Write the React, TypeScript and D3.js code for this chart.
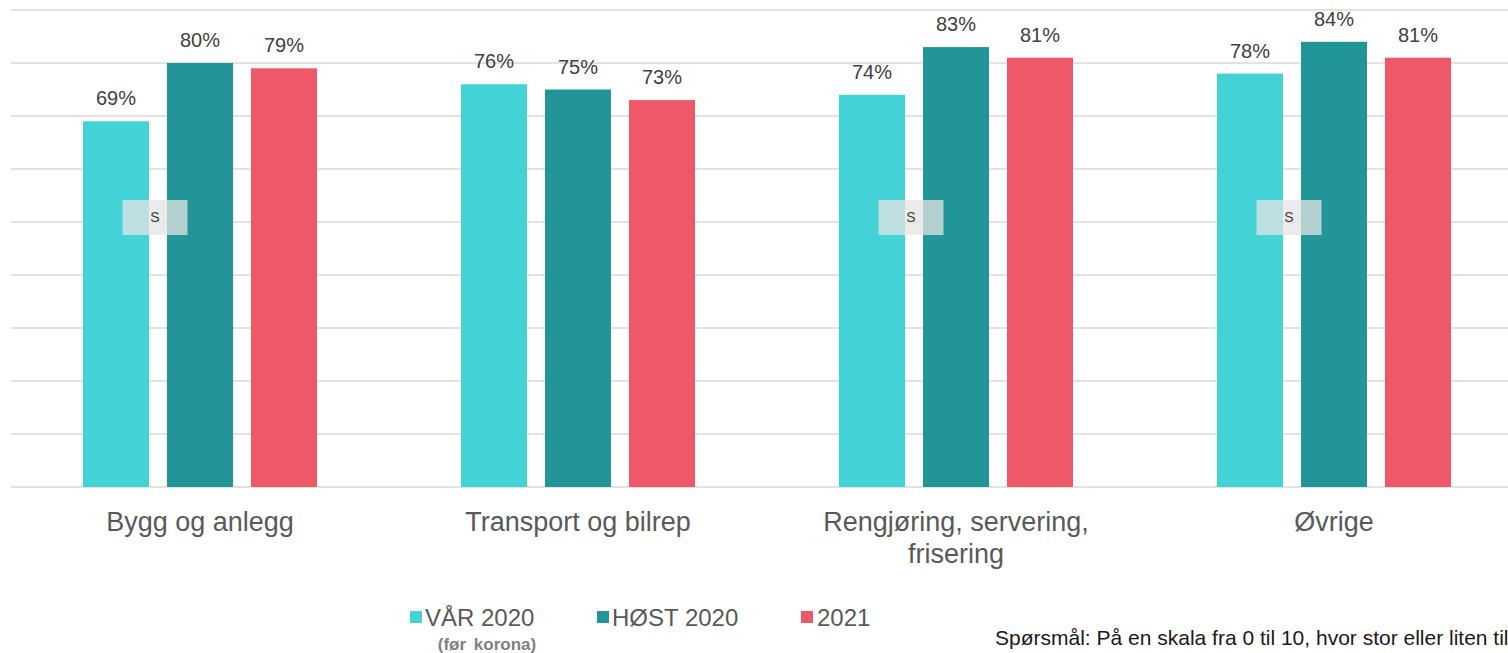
import React from 'react';
import * as d3 from 'd3';

const categories = ['Bygg og anlegg', 'Transport og bilrep', 'Rengjøring, servering,\nfrisering', 'Øvrige'];
const seriesNames = ['VÅR 2020', 'HØST 2020', '2021'];
const seriesColors = ['#43d3d6', '#229598', '#ef5867'];
const var2020 = [0.69, 0.76, 0.74, 0.78];
const host2020 = [0.80, 0.75, 0.83, 0.84];
const y2021 = [0.79, 0.73, 0.81, 0.81];
const suppressed = [true, false, true, true];
const yTicks = [0, 0.1, 0.2, 0.3, 0.4, 0.5, 0.6, 0.7, 0.8, 0.9];

const W = 1508;
const H = 653;
const FONT = "'Liberation Sans', Arial, sans-serif";

export default function App() {
  const series = [var2020, host2020, y2021];
  const x = d3.scaleBand<string>().domain(categories).range([11, 11 + 4 * 378]).padding(0);
  const xi = d3.scaleBand<string>().domain(seriesNames).range([72, 306]).paddingInner(18 / 84).paddingOuter(0);
  const y = d3.scaleLinear().domain([0, 0.9]).range([487, 10]);
  const fmt = d3.format('.0%');
  const sMid = (xi(seriesNames[0])! + xi.bandwidth() + xi(seriesNames[1])!) / 2 - 3;

  return (
    <svg width={W} height={H} style={{ position: 'absolute', left: 0, top: 0, background: '#fff' }} fontFamily={FONT}>
      {yTicks.map((t) => (
        <line key={t} x1={11} x2={W} y1={y(t)} y2={y(t)} stroke="#d9d9d9" strokeWidth={1.5} />
      ))}
      {categories.map((c, ci) => (
        <g key={c} transform={`translate(${x(c)},0)`}>
          {seriesNames.map((s, si) => {
            const v = series[si][ci];
            const bx = xi(s)!;
            return (
              <g key={s}>
                <rect x={bx} y={y(v)} width={xi.bandwidth()} height={y(0) - y(v)} fill={seriesColors[si]} />
                <text x={bx + xi.bandwidth() / 2} y={y(v) - 16} textAnchor="middle" fontSize={20} fill="#404040">
                  {fmt(v)}
                </text>
              </g>
            );
          })}
          {suppressed[ci] && (
            <g>
              <rect x={sMid - 32.5} y={200} width={65} height={35} fill="#e4e4e4" fillOpacity={0.75} />
              <text x={sMid} y={222} textAnchor="middle" fontSize={14} fill="#404040">
                S
              </text>
            </g>
          )}
          {c.split('\n').map((line, li) => (
            <text key={li} x={x.bandwidth() / 2} y={531 + li * 32} textAnchor="middle" fontSize={27} fill="#595959">
              {line}
            </text>
          ))}
        </g>
      ))}
      {[
        { x: 410, tx: 425 },
        { x: 597, tx: 612 },
        { x: 801, tx: 817 },
      ].map((p, i) => (
        <g key={i}>
          <rect x={p.x} y={611} width={12} height={12} fill={seriesColors[i]} />
          <text x={p.tx} y={626} fontSize={24} fill="#595959">
            {seriesNames[i]}
          </text>
        </g>
      ))}
      <text x={487} y={650} textAnchor="middle" fontSize={17} fontWeight="bold" fill="#7f7f7f" wordSpacing={3}>
        (før korona)
      </text>
      <text x={995} y={645} fontSize={21} fill="#1a1a1a">
        Spørsmål: På en skala fra 0 til 10, hvor stor eller liten tillit har du til ...
      </text>
    </svg>
  );
}
